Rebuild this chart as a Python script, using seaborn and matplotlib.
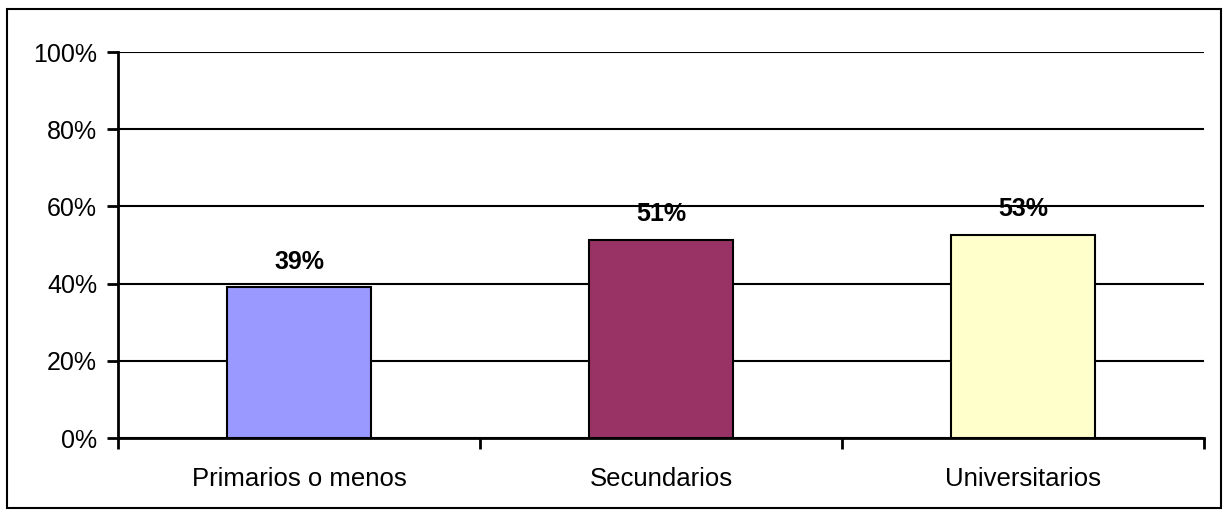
import pandas as pd
import matplotlib.pyplot as plt
import matplotlib.patches as mpatches
from matplotlib.ticker import FixedLocator, PercentFormatter
import seaborn as sns

sns.set_theme(style='white')
plt.rcParams['font.family'] = ['Liberation Sans', 'DejaVu Sans']
plt.rcParams['text.color'] = 'black'
plt.rcParams['xtick.color'] = 'black'
plt.rcParams['ytick.color'] = 'black'

categorias = ['Primarios o menos', 'Secundarios', 'Universitarios']
valores = [0.39, 0.514, 0.526]
colores = ['#9999FF', '#993366', '#FFFFCC']

df = pd.DataFrame({'Nivel': categorias, 'Valor': valores})

fig = plt.figure(figsize=(12.28, 5.13), dpi=100)
ax = fig.add_axes([118 / 1228, 75 / 513, 1086 / 1228, 386 / 513])

sns.barplot(data=df, x='Nivel', y='Valor', hue='Nivel', palette=colores,
            width=0.4, edgecolor='black', linewidth=1.5, legend=False,
            saturation=1, ax=ax)

ax.set_ylim(0, 1)
ax.set_xlim(-0.5, 2.5)
ax.yaxis.set_major_locator(FixedLocator([0, 0.2, 0.4, 0.6, 0.8, 1.0]))
ax.yaxis.set_major_formatter(PercentFormatter(1.0, decimals=0))
ax.set_axisbelow(True)
ax.yaxis.grid(True, color='black', linewidth=1.5)
ax.xaxis.grid(False)

ax.xaxis.set_minor_locator(FixedLocator([-0.5, 0.5, 1.5, 2.5]))
ax.tick_params(axis='x', which='major', length=0, pad=21, labelsize=18.5,
               labelcolor='black')
ax.tick_params(axis='x', which='minor', length=8, width=2, color='black',
               direction='out', bottom=True)
ax.tick_params(axis='y', length=8, width=2, color='black', direction='out',
               left=True, labelsize=18, pad=7, labelcolor='black')

for s in ['top', 'right']:
    ax.spines[s].set_visible(False)
for s in ['left', 'bottom']:
    ax.spines[s].set_color('black')
    ax.spines[s].set_linewidth(2)

ax.set_xlabel('')
ax.set_ylabel('')

for i, v in enumerate(valores):
    ax.annotate(f'{round(v * 100):.0f}%', (i, v), xytext=(0, 10),
                textcoords='offset points', ha='center', va='bottom',
                fontsize=18, fontweight='bold', color='black')

fig.patches.append(mpatches.Rectangle((7 / 1228, 5 / 513), 1214 / 1228, 499 / 513,
                                      transform=fig.transFigure, fill=False,
                                      edgecolor='black', linewidth=1.5))

fig.savefig('out.png', dpi=100)
